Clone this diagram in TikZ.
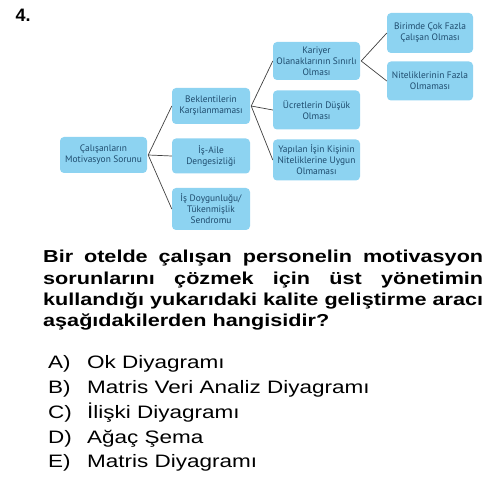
\documentclass[tikz,border=0pt]{standalone}
\usepackage{fontspec}
\setmainfont{Liberation Sans}
\newfontfamily\widefont[FakeStretch=1.25]{Liberation Sans}
\newfontfamily\boxfont{PT Sans}
\usepackage{tikz}
\usetikzlibrary{positioning}
\usepackage{xcolor}
\definecolor{boxblue}{HTML}{8DD3F1}
\definecolor{boxtext}{HTML}{1F4C6E}

\begin{document}
\begin{tikzpicture}[x=1pt, y=-1pt,
                box/.style={rectangle, rounded corners=4pt, fill=boxblue, text=boxtext,
                  align=center, inner sep=1pt, minimum width=#1,
                  font=\boxfont\fontsize{9.4}{11}\selectfont},
                box/.default=80pt,
                link/.style={draw=black!75, line width=0.7pt},
                opt/.style={anchor=base west, inner sep=0pt, font=\widefont\fontsize{18}{20}\selectfont}]

                \useasboundingbox (0,0) rectangle (500,494);

                \node[anchor=base west, font=\bfseries\fontsize{18}{20}\selectfont] (qno) at (12,22) {4.};

                % tree
                \node[box=87pt, minimum height=36pt] (root) at (103.5,155) {Çalışanların\\Motivasyon Sorunu};

                \node[box=78pt, minimum height=36pt] (bek) at (211,106) {Beklentilerin\\Karşılanmaması};
                \node[box=78pt, minimum height=35pt] (isa) at (211,156) {İş-Aile\\Dengesizliği};
                \node[box=78pt, minimum height=42pt] (doy) at (211,209) {İş Doygunluğu/\\Tükenmişlik\\Sendromu};

                \node[box=87pt, minimum height=38pt] (kar) at (316.5,61) {Kariyer\\Olanaklarının Sınırlı\\Olması};
                \node[box=87pt, minimum height=39pt] (ucr) at (316.5,110) {Ücretlerin Düşük\\Olması};
                \node[box=87pt, minimum height=41pt] (yap) at (316.5,160) {Yapılan İşin Kişinin\\Niteliklerine Uygun\\Olmaması};

                \node[box=86pt, minimum height=40pt] (bir) at (430,33) {Birimde Çok Fazla\\Çalışan Olması};
                \node[box=86pt, minimum height=39pt] (nit) at (430,81) {Niteliklerinin Fazla\\Olmaması};

                \coordinate (r0) at ([xshift=1pt]root.east);
                \coordinate (b0) at ([xshift=1pt]bek.east);
                \coordinate (k0) at ([xshift=1pt]kar.east);

                \path[link]
                (r0) edge (bek.west) edge (isa.west) edge (doy.west)
                (b0) edge (kar.west) edge (ucr.west) edge (yap.west)
                (k0) edge (bir.west) edge (nit.west);

                % question
                \node[anchor=north west, inner sep=0pt, text width=440pt, align=justify,
                      font=\widefont\bfseries\fontsize{17.3}{21.3}\selectfont] (soru) at (43,250)
                  {Bir otelde çalışan personelin motivasyon\linebreak
                   sorunlarını çözmek için üst yönetimin\linebreak
                   kullandığı yukarıdaki kalite geliştirme aracı\linebreak
                   aşağıdakilerden hangisidir?};

                % options
                \foreach \y/\l/\t [count=\i] in {368/A/Ok Diyagramı, 393/B/Matris Veri Analiz Diyagramı,
                    418/C/İlişki Diyagramı, 443/D/Ağaç Şema, 467/E/Matris Diyagramı} {
                  \node[opt] (h\i) at (48,\y) {\l)};
                  \node[opt] (s\i) at (87,\y) {\t};
                }

            \end{tikzpicture}
\end{document}
